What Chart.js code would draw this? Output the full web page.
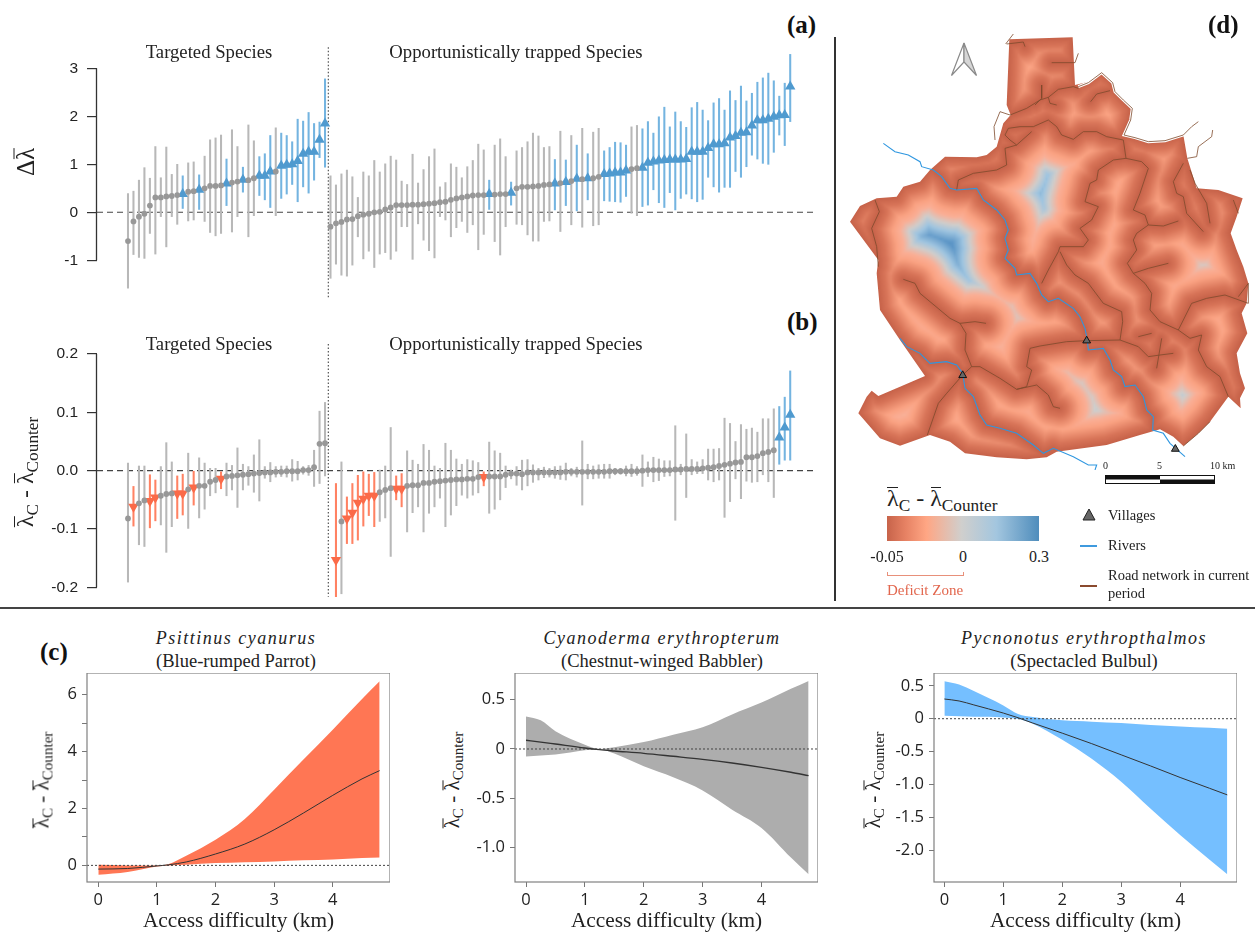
<!DOCTYPE html>
<html>
<head>
<meta charset="utf-8">
<title>Access difficulty figure</title>
<script src="https://cdn.jsdelivr.net/npm/chart.js@4/dist/chart.umd.js"></script>
<style>
  html, body { margin: 0; padding: 0; background: #fff; }
  #fig { position: relative; width: 1255px; height: 932px; overflow: hidden; font-family: "Liberation Serif", serif; color: #222; }
  #fig canvas { position: absolute; }
  .t { position: absolute; white-space: nowrap; line-height: 1; }
  .c { transform: translate(-50%, -50%); }
  .rot { transform: translate(-50%, -50%) rotate(-90deg); }
  .tag { font-weight: bold; font-size: 25px; color: #111; }
  .head { font-size: 18.7px; }
  .sp { font-style: italic; font-size: 18px; letter-spacing: 1.5px; }
  .com { font-size: 18.5px; }
  .leg { font-size: 14.5px; }
  sub { font-size: 72%; vertical-align: -0.28em; line-height: 0; }
  .lb { position: relative; display: inline-block; }
  .lb::before { content: ""; position: absolute; left: 4%; right: 4%; top: 0.03em; height: 0.055em; background: currentColor; }
  .line { position: absolute; }
</style>
</head>
<body>
<div id="fig">
  <canvas id="chartA" width="830" height="260" style="left:0;top:40px"></canvas>
  <canvas id="chartB" width="830" height="260" style="left:0;top:340px"></canvas>
  <canvas id="chartC1" width="350" height="263" style="left:40px;top:673px"></canvas>
  <canvas id="chartC2" width="350" height="263" style="left:468px;top:673px"></canvas>
  <canvas id="chartC3" width="350" height="263" style="left:887px;top:673px"></canvas>
  <canvas id="chartMap" width="415" height="450" style="left:840px;top:20px"></canvas>

  <div class="line" style="left:834px;top:37px;width:2px;height:564px;background:#333"></div>
  <div class="line" style="left:0;top:607px;width:1255px;height:2px;background:#444"></div>

  <div class="t tag" style="left:787px;top:12px">(a)</div>
  <div class="t tag" style="left:787px;top:309px">(b)</div>
  <div class="t tag" style="left:40px;top:639px">(c)</div>
  <div class="t tag" style="left:1208px;top:12px">(d)</div>

  <div class="t head c" style="left:209px;top:52px">Targeted Species</div>
  <div class="t head c" style="left:516px;top:52px">Opportunistically trapped Species</div>
  <div class="t head c" style="left:209px;top:344px">Targeted Species</div>
  <div class="t head c" style="left:516px;top:344px">Opportunistically trapped Species</div>

  <div class="t rot" style="left:25px;top:162px;font-size:25px">Δ<span class="lb">λ</span></div>
  <div class="t rot" style="left:25px;top:472px;font-size:24px"><span class="lb">λ</span><sub>C</sub> - <span class="lb">λ</span><sub>Counter</sub></div>

  <div class="t sp c" style="left:236px;top:638px">Psittinus cyanurus</div>
  <div class="t com c" style="left:236px;top:661px">(Blue-rumped Parrot)</div>
  <div class="t sp c" style="left:662px;top:638px">Cyanoderma erythropterum</div>
  <div class="t com c" style="left:662px;top:661px">(Chestnut-winged Babbler)</div>
  <div class="t sp c" style="left:1084px;top:638px">Pycnonotus erythropthalmos</div>
  <div class="t com c" style="left:1084px;top:661px">(Spectacled Bulbul)</div>

  <div class="t rot" style="left:42px;top:780px;font-size:21px"><span class="lb">λ</span><sub>C</sub> - <span class="lb">λ</span><sub>Counter</sub></div>
  <div class="t rot" style="left:452px;top:780px;font-size:21px"><span class="lb">λ</span><sub>C</sub> - <span class="lb">λ</span><sub>Counter</sub></div>
  <div class="t rot" style="left:873px;top:780px;font-size:21px"><span class="lb">λ</span><sub>C</sub> - <span class="lb">λ</span><sub>Counter</sub></div>

  <!-- north arrow -->
  <svg style="position:absolute;left:950px;top:42px" width="28" height="36" viewBox="0 0 28 36">
    <polygon points="14,1 1.5,33.5 14,20" fill="#fff" stroke="#8a8a8a" stroke-width="1.2"/>
    <polygon points="14,1 26.5,33.5 14,20" fill="#d6d6d6" stroke="#8a8a8a" stroke-width="1.2"/>
  </svg>

  <!-- scale bar -->
  <div class="t" style="left:1103px;top:461px;font-size:10px">0</div>
  <div class="t" style="left:1157px;top:461px;font-size:10px">5</div>
  <div class="t" style="left:1210px;top:461px;font-size:10px">10 km</div>
  <svg style="position:absolute;left:1105px;top:475px" width="111" height="10">
    <rect x="0.5" y="0.5" width="109" height="8" fill="#fff" stroke="#111"/>
    <rect x="1" y="1" width="54" height="3.5" fill="#111"/>
    <rect x="55" y="4.5" width="54" height="3.5" fill="#111"/>
  </svg>

  <!-- colour legend -->
  <div class="t" style="left:887px;top:486px;font-size:24px"><span class="lb">λ</span><sub>C</sub> - <span class="lb">λ</span><sub>Counter</sub></div>
  <div class="line" style="left:887px;top:516px;width:152px;height:25px;background:linear-gradient(90deg,#c7634a 0%,#e68163 12%,#ffa684 26%,#d0cfcd 49%,#a3c6df 72%,#4f8dbc 100%)"></div>
  <div class="t c" style="left:887px;top:557px;font-size:16px">-0.05</div>
  <div class="t c" style="left:963px;top:557px;font-size:16px">0</div>
  <div class="t c" style="left:1039px;top:557px;font-size:16px">0.3</div>
  <div class="line" style="left:887px;top:572px;width:75px;height:3px;border:1px solid #e8907a;border-top:none"></div>
  <div class="t c" style="left:925px;top:590px;font-size:15px;color:#e2664d">Deficit Zone</div>

  <svg style="position:absolute;left:1080px;top:506px" width="20" height="18">
    <polygon points="9,3 15,14 3,14" fill="#666" stroke="#222" stroke-width="1"/>
  </svg>
  <div class="t leg" style="left:1108px;top:508px">Villages</div>
  <div class="line" style="left:1080px;top:545px;width:17px;height:1.5px;background:#3f9ade"></div>
  <div class="t leg" style="left:1108px;top:538px">Rivers</div>
  <div class="line" style="left:1080px;top:585px;width:17px;height:1.5px;background:#8a4a2e"></div>
  <div class="t leg" style="left:1108px;top:568px">Road network in current</div>
  <div class="t leg" style="left:1108px;top:586px">period</div>
</div>

<script>
// ===== PANEL A: change in lambda per species (0-36 targeted, 37-121 opportunistic) =====
const aMean = [-0.6,-0.19,-0.09,-0.03,0.14,0.31,0.31,0.33,0.34,0.36,0.38,0.43,0.44,0.47,0.5,0.55,0.55,0.56,0.6,0.62,0.64,0.68,0.67,0.71,0.76,0.76,0.85,0.85,0.97,0.99,1.0,1.07,1.22,1.26,1.26,1.51,1.85,
  -0.3,-0.23,-0.2,-0.15,-0.14,-0.08,-0.05,-0.03,0,0.01,0.06,0.1,0.15,0.15,0.15,0.16,0.16,0.17,0.18,0.19,0.21,0.22,0.26,0.29,0.31,0.33,0.35,0.36,0.36,0.38,0.37,0.38,0.38,0.41,0.5,0.53,0.53,0.54,0.55,0.57,0.58,0.6,0.61,0.63,0.65,0.7,0.69,0.71,0.71,0.74,0.8,0.81,0.83,0.83,0.87,0.9,0.92,0.93,1.03,1.06,1.08,1.09,1.1,1.1,1.1,1.11,1.26,1.26,1.26,1.34,1.42,1.42,1.44,1.56,1.59,1.66,1.67,1.81,1.92,1.92,1.95,1.99,2.02,2.03,2.62];
const aHigh = [0.39,0.44,0.67,0.93,0.71,1.37,0.72,1.36,0.79,1.0,0.76,1.03,1.05,0.78,1.17,1.51,1.55,1.61,1.11,1.72,1.37,0.94,1.82,1.49,1.16,1.22,1.6,1.76,1.65,1.6,1.47,1.94,1.9,2.08,1.85,1.88,2.78,
  0.76,0.57,0.8,0.88,0.74,0.31,0.84,0.76,1.08,0.84,1.01,1.17,1.09,0.65,0.58,1.21,0.61,0.89,1.16,1.32,0.53,0.62,1.01,0.94,0.72,0.95,1.08,1.42,1.3,0.67,1.4,1.53,1.16,0.63,1.28,1.35,1.47,1.65,1.59,1.35,1.37,1.1,1.69,1.09,1.6,1.4,1.75,1.22,1.67,1.75,1.28,1.35,1.46,1.45,1.4,1.78,1.81,1.74,1.89,1.65,1.99,2.19,1.78,2.09,1.89,1.77,2.18,2.29,2.13,1.91,2.28,2.37,2.13,2.53,2.33,2.63,2.32,2.48,2.71,2.8,2.9,2.74,2.42,2.69,3.29];
const aLow = [-1.58,-0.88,-0.94,-0.96,-0.44,-0.87,-0.09,-0.72,-0.09,-0.25,0.08,-0.18,-0.16,0.06,-0.19,-0.42,-0.49,-0.44,0.14,-0.41,-0.09,0.42,-0.51,-0.07,0.35,0.26,0.1,-0.07,0.29,0.38,0.58,0.22,0.53,0.4,0.67,1.14,0.94,
  -1.375,-1.08,-1.31,-1.33,-1.1,-0.51,-0.97,-0.81,-1.15,-0.87,-0.84,-0.98,-0.81,-0.3,-0.3,-0.98,-0.24,-0.58,-0.8,-0.95,-0.09,-0.16,-0.51,-0.32,-0.19,-0.42,-0.26,-0.78,-0.46,0.06,-0.61,-0.89,-0.3,0.15,-0.25,-0.26,-0.47,-0.6,-0.6,-0.19,-0.18,0.05,-0.4,0.14,-0.26,0.03,-0.31,0.26,-0.28,-0.26,0.24,0.23,0.22,0.21,0.33,-0.02,-0.07,0.12,0.15,0.47,0.2,0.1,0.41,0.05,0.29,0.38,0.28,0.22,0.27,0.73,0.53,0.42,0.52,0.52,0.85,0.73,0.95,1.19,1.11,1.02,1.0,1.25,1.61,1.39,1.89];
const aUpSpecies = [10,13,18,21,24,25,26,28,29,30,31,32,33,34,35,36,66,70,78,80,82,84,87,88,89,90,91,94,95,96,97,98,99,100,101,102,103,104,105,106,107,108,109,110,111,112,113,114,115,116,117,118,119,120,121];
const aTicks = [3, 2, 1, 0, -1];

// ===== PANEL B: actual minus counterfactual (species 37 has no value here) =====
const bMean = [-0.082,-0.062,-0.056,-0.051,-0.052,-0.046,-0.043,-0.04,-0.039,-0.039,-0.039,-0.032,-0.029,-0.026,-0.026,-0.019,-0.016,-0.014,-0.01,-0.009,-0.008,-0.007,-0.006,-0.005,-0.004,-0.003,-0.003,-0.002,-0.002,-0.001,-0.001,-0.001,0.001,0.001,0.006,0.046,0.047,
  null,-0.153,-0.087,-0.082,-0.072,-0.055,-0.048,-0.043,-0.043,-0.037,-0.033,-0.03,-0.031,-0.031,-0.026,-0.025,-0.025,-0.021,-0.021,-0.019,-0.018,-0.017,-0.016,-0.015,-0.015,-0.014,-0.014,-0.011,-0.011,-0.01,-0.01,-0.01,-0.007,-0.005,-0.005,-0.006,-0.003,-0.003,-0.003,-0.003,-0.003,-0.003,-0.003,-0.002,-0.002,-0.002,-0.002,-0.002,-0.002,-0.002,-0.002,-0.001,-0.001,-0.001,-0.001,-0.001,-0.001,0,0.001,0.001,0.001,0.001,0.001,0.002,0.002,0.003,0.003,0.003,0.004,0.005,0.006,0.008,0.01,0.012,0.014,0.015,0.023,0.023,0.025,0.03,0.032,0.035,0.057,0.074,0.096];
const bHigh = [0.013,-0.027,0.008,0.008,-0.007,-0.016,0.007,0.048,0.015,-0.009,-0.006,0.03,0,0.022,0.013,0.004,0.004,-0.002,0.013,0.009,0.039,0.011,0.007,0.027,0.053,0.007,0.014,0.007,0.008,0.008,0.019,0.016,0.007,0.009,0.035,0.102,0.117,
  null,-0.022,0.015,-0.045,-0.022,-0.008,-0.002,-0.006,-0.003,0.001,0.008,0.074,-0.009,-0.005,0.034,0.018,0.011,0.045,0.035,0.008,0.004,0.047,0.035,0.02,0.011,0.019,0.017,0.014,-0.002,0.049,0.034,0.03,0.008,0.001,0.007,0.018,0.019,0.01,0.004,0.006,0.004,0.007,0.008,0.013,0.004,0.006,0.051,0.011,0.008,0.01,0.011,0.011,0.004,0.004,0.008,0.011,0.007,0.027,0.015,0.023,0.02,0.017,0.017,0.077,0.011,0.063,0.019,0.015,0.019,0.037,0.037,0.038,0.09,0.081,0.05,0.079,0.071,0.073,0.066,0.089,0.089,0.106,0.11,0.126,0.171];
const bLow = [-0.191,-0.095,-0.127,-0.13,-0.098,-0.086,-0.093,-0.14,-0.096,-0.082,-0.076,-0.099,-0.059,-0.081,-0.066,-0.043,-0.038,-0.031,-0.043,-0.033,-0.063,-0.033,-0.025,-0.037,-0.052,-0.013,-0.019,-0.011,-0.01,-0.011,-0.018,-0.016,-0.006,-0.008,-0.027,-0.022,-0.009,
  null,-0.216,-0.211,-0.125,-0.125,-0.119,-0.095,-0.077,-0.096,-0.087,-0.081,-0.147,-0.05,-0.062,-0.105,-0.072,-0.062,-0.105,-0.073,-0.062,-0.047,-0.096,-0.076,-0.06,-0.042,-0.047,-0.042,-0.038,-0.026,-0.073,-0.066,-0.05,-0.029,-0.014,-0.025,-0.033,-0.026,-0.02,-0.016,-0.012,-0.011,-0.013,-0.015,-0.016,-0.009,-0.011,-0.059,-0.014,-0.014,-0.013,-0.013,-0.013,-0.007,-0.006,-0.009,-0.01,-0.008,-0.027,-0.01,-0.019,-0.017,-0.01,-0.009,-0.085,-0.007,-0.046,-0.007,-0.005,-0.005,-0.016,-0.019,-0.016,-0.08,-0.053,-0.014,-0.048,-0.018,-0.02,-0.019,-0.007,-0.019,-0.046,0.011,0.018,0.018];
const bUpSpecies = [119,120,121];
const bDownSpecies = [1,4,5,9,10,12,17,38,40,41,42,43,44,45,49,50,65];
const bTicks = [0.2, 0.1, 0, -0.1, -0.2];

// ===== PANEL C: response curves against access difficulty =====
const c1X = [0,0.5,1,1.2,1.5,2,2.5,3,3.5,4,4.5,4.8];
const c1Upper = [0.02,0,0,0.05,0.34,0.9,1.63,2.66,3.72,4.77,5.85,6.47];
const c1Mean = [-0.13,-0.11,-0.02,0.02,0.12,0.4,0.75,1.25,1.84,2.46,3.04,3.33];
const c1Lower = [-0.33,-0.23,-0.04,0,0.02,0.08,0.11,0.14,0.18,0.21,0.26,0.28];
const c1Ticks = [0,1,2,3,4,5,6];
const c1Labels = ["0","","2","","4","","6"];

const c2X = [0,0.25,0.5,1,1.25,1.5,2,2.5,3,3.5,4,4.5,4.8];
const c2Upper = [0.33,0.29,0.18,0.044,0,0.017,0.07,0.145,0.22,0.35,0.47,0.61,0.69];
const c2Mean = [0.088,0.07,0.05,0.01,-0.007,-0.02,-0.044,-0.074,-0.105,-0.142,-0.186,-0.236,-0.27];
const c2Lower = [-0.075,-0.066,-0.057,-0.014,-0.003,-0.047,-0.176,-0.287,-0.42,-0.615,-0.8,-1.1,-1.27];
const c2Ticks = [0.5,0,-0.5,-1];
const c2Labels = ["0.5","0","-0.5","-1.0"];

const c3X = [0,0.25,0.5,1,1.25,1.5,2,2.5,3,3.5,4,4.5,4.8];
const c3Upper = [0.57,0.52,0.42,0.2,0.07,0.025,-0.025,-0.045,-0.066,-0.096,-0.117,-0.137,-0.152];
const c3Mean = [0.3,0.27,0.21,0.086,0.015,-0.066,-0.22,-0.38,-0.55,-0.72,-0.895,-1.06,-1.16];
const c3Lower = [0.045,0.038,0.03,0.02,-0.005,-0.076,-0.32,-0.61,-0.96,-1.37,-1.77,-2.15,-2.37];
const c3Ticks = [0.5,0,-0.5,-1,-1.5,-2];
const c3Labels = ["0.5","0","-0.5","-1.0","-1.5","-2.0"];
const cXTicks = [0,1,2,3,4];

// ===== PANEL D: map traced in crop units, [x, y] =====
const mapOutline = [[508,58],[698,52],[705,195],[745,185],[785,160],[815,185],[825,215],[850,240],[875,265],[870,300],[852,345],[880,352],[925,362],[975,360],[1030,345],[1042,415],[1070,505],[1135,510],[1208,535],[1190,590],[1172,640],[1190,690],[1210,740],[1225,790],[1220,850],[1205,880],[1222,940],[1190,1000],[1200,1060],[1215,1105],[1200,1135],[1202,1165],[1165,1130],[1110,1205],[1075,1240],[1030,1278],[1000,1250],[960,1228],[900,1245],[800,1275],[650,1295],[620,1312],[560,1318],[470,1312],[375,1300],[330,1265],[270,1245],[180,1277],[120,1255],[55,1180],[80,1130],[95,1112],[115,1128],[180,1100],[255,1068],[180,960],[120,870],[110,760],[115,720],[30,605],[60,558],[110,535],[170,530],[190,500],[240,485],[270,450],[315,410],[410,412],[440,405],[470,380],[490,310],[512,285],[500,255]];
const mapRivers = [
  [[130,370],[165,395],[205,405],[240,425],[245,440],[280,450],[305,470],[330,505],[350,510],[410,505],[430,540],[470,570],[495,600],[505,630],[495,655],[505,690],[495,715],[525,745],[530,765],[570,760],[590,790],[605,825],[625,845],[655,835],[700,865],[720,890],[735,925],[742,960],[745,990],[790,985],[810,1020],[820,1050],[845,1070],[855,1100],[885,1095],[910,1130],[920,1170],[940,1190],[938,1230],[970,1240],[990,1270],[1035,1310]],
  [[180,955],[200,980],[240,1000],[270,1030],[320,1025],[350,1035],[368,1060],[375,1105],[400,1130],[420,1185],[440,1215],[480,1225],[530,1240],[580,1275],[610,1300],[640,1285],[700,1310],[745,1335],[770,1335],[765,1350]]
];
const mapBorderRoad = [[715,200],[745,188],[785,158],[818,188],[825,215],[850,240],[877,265],[872,300],[852,345],[885,353],[925,365],[975,362],[1030,345],[1055,320],[1075,305]];
const mapRoads = [
  [[497,72],[520,42]],[[500,72],[550,66],[555,80]],
  [[635,128],[705,128],[715,100]],
  [[510,285],[560,265],[600,240],[625,232],[655,208],[700,200],[715,205]],
  [[465,360],[462,320],[480,275],[510,285]],
  [[605,195],[605,235],[585,255]],[[625,232],[630,250],[650,255]],
  [[752,245],[770,222],[810,212]],
  [[505,325],[540,320],[580,320],[625,300],[650,320],[665,345],[700,358],[730,335],[770,335],[800,350],[850,360],[858,415],[905,425],[925,445],[900,520],[880,570],[915,585],[925,615],[890,640],[880,660],[890,690],[862,730],[880,760],[915,790],[935,820],[930,870],[960,905],[1015,930],[1050,955],[1085,945],[1075,990],[1100,1040],[1140,1070],[1165,1130]],
  [[858,415],[820,420],[775,450],[770,480],[750,490],[735,545],[775,560],[755,600],[720,625],[745,660],[730,680],[660,680],[655,695],[625,750],[605,790]],
  [[660,695],[680,735],[705,765],[745,790],[790,850],[845,875],[848,905],[840,960]],
  [[505,325],[495,345],[510,360],[530,375],[575,335]],
  [[530,375],[495,385],[500,435],[470,450],[400,460],[355,480],[350,510]],
  [[925,615],[970,618],[1015,603]],
  [[1030,430],[1000,485],[1010,520],[1030,530],[1040,580],[1090,635]],
  [[1042,415],[1070,410],[1075,380],[1115,350],[1118,330]],
  [[1050,450],[1065,490],[1100,550],[1110,610]],
  [[880,760],[925,745],[985,730]],
  [[1015,930],[1055,850],[1100,835],[1155,825],[1225,850],[1225,790],[1195,830]],
  [[740,962],[680,965],[600,978],[570,985],[560,1040],[575,1050],[560,1100],[530,1108],[480,1075],[420,1040],[395,1040],[368,1065],[320,1120],[295,1150],[262,1245]],
  [[840,960],[740,962]],
  [[840,960],[895,980],[925,1010],[960,1005],[1000,1000]],[[965,955],[950,1045]],[[895,950],[935,940]],
  [[530,1108],[590,1095],[625,1125],[640,1160],[660,1165]],
  [[395,1040],[375,990],[378,940],[360,910],[330,895],[240,820],[225,790],[190,778]],[[360,910],[405,905],[438,910]],
  [[105,540],[118,575],[95,625],[110,680],[115,740]],
  [[1180,540],[1195,580]],[[1030,1278],[1075,1240],[1110,1205]]
];
const mapVillages = [[368,1066],[740,962],[1006,1287]];
// distance to nearest road or river (image px) against colour of the field
const mapStops = [0, 8, 20, 27, 35, 42, 52, 64];
const mapColors = [[198,98,73],[216,116,88],[250,162,130],[250,175,150],[208,205,203],[160,197,224],[95,152,200],[58,120,172]];

// ===== HELPERS =====
const INK = "#333";
const GREY_BAR = "#b8b8b8", GREY_DOT = "#989898";
const BLUE_BAR = "#74b4e0", BLUE_DOT = "#4f9acf";
const RED_BAR = "#ff8263", RED_DOT = "#fb6a48";

function fixTicks(values) {
  return s => { s.ticks = values.map(v => ({ value: v })); };
}

// draws the R style axis line between the first and last tick
const rAxisLine = {
  id: "rAxisLine",
  afterDatasetsDraw(chart) {
    const y = chart.scales.y, x = Math.round(y.right) - 0.5;
    const vals = y.ticks.map(t => y.getPixelForValue(t.value));
    const ctx = chart.ctx;
    ctx.save();
    ctx.strokeStyle = INK;
    ctx.lineWidth = 1.3;
    ctx.beginPath();
    ctx.moveTo(x, Math.min(...vals));
    ctx.lineTo(x, Math.max(...vals));
    ctx.stroke();
    ctx.restore();
  }
};

const boxFrame = {
  id: "boxFrame",
  afterDatasetsDraw(chart) {
    const a = chart.chartArea, ctx = chart.ctx;
    ctx.save();
    ctx.strokeStyle = "#808080";
    ctx.lineWidth = 1.2;
    ctx.strokeRect(a.left, a.top, a.right - a.left, a.bottom - a.top);
    ctx.restore();
  }
};

// ===== SPECIES CHARTS =====
function speciesChart(id, mean, low, high, ticks, fmt, upIdx, downIdx, xRange, yRange, dotted) {
  const idx = mean.map((_, i) => i);
  const upSet = new Set(upIdx), downSet = new Set(downIdx);
  const barColor = idx.map(i => upSet.has(i) ? BLUE_BAR : downSet.has(i) ? RED_BAR : GREY_BAR);
  const has = i => mean[i] !== null;
  new Chart(document.getElementById(id), {
    type: "scatter",
    data: {
      datasets: [
        { data: idx.filter(i => has(i) && !upSet.has(i) && !downSet.has(i)).map(i => ({ x: i, y: mean[i] })),
          backgroundColor: GREY_DOT, pointRadius: 2.9, pointBorderWidth: 0, order: 1 },
        { data: upIdx.map(i => ({ x: i, y: mean[i] })), pointStyle: "triangle", pointRadius: 6,
          backgroundColor: BLUE_DOT, pointBorderWidth: 0, order: 1 },
        { data: downIdx.map(i => ({ x: i, y: mean[i] })), pointStyle: "triangle", rotation: 180, pointRadius: 6,
          backgroundColor: RED_DOT, pointBorderWidth: 0, order: 1 },
        { type: "bar", data: idx.filter(has).map(i => ({ x: i, y: [low[i], high[i]] })),
          backgroundColor: idx.filter(has).map(i => barColor[i]), barThickness: 1.4, grouped: false, order: 2 },
        { showLine: true, data: [{ x: xRange[0], y: 0 }, { x: 125.6, y: 0 }], borderColor: "#444", borderWidth: 1.1,
          borderDash: [6, 4], pointRadius: 0, order: 3 },
        { showLine: true, data: [{ x: 36.6, y: dotted[0] }, { x: 36.6, y: dotted[1] }], borderColor: "#444", borderWidth: 1.1,
          borderDash: [1.5, 2], pointRadius: 0, order: 3 }
      ]
    },
    options: {
      responsive: false,
      animation: false,
      events: [],
      layout: { padding: 0, autoPadding: false },
      plugins: { legend: { display: false }, tooltip: { enabled: false } },
      scales: {
        x: { type: "linear", display: false, offset: false, min: xRange[0], max: xRange[1], grid: { display: false } },
        y: {
          min: yRange[0], max: yRange[1],
          afterBuildTicks: fixTicks(ticks),
          afterFit(s) { s.width = 97; s.paddingTop = 0; s.paddingBottom = 0; },
          border: { display: false },
          grid: { drawOnChartArea: false, drawTicks: true, tickLength: 10, color: INK, lineWidth: 1.2 },
          ticks: { color: "#222", padding: 9, autoSkip: false, font: { family: "Liberation Sans", size: 15.5 }, callback: fmt }
        }
      }
    },
    plugins: [rAxisLine]
  });
}

speciesChart("chartA", aMean, aLow, aHigh, aTicks, v => String(v), aUpSpecies, [],
  [-5.664, 128.27], [-1.827, 3.59], [3.44, -1.785]);
speciesChart("chartB", bMean, bLow, bHigh, bTicks, v => v.toFixed(1), bUpSpecies, bDownSpecies,
  [-5.664, 128.27], [-0.2217, 0.224], [0.217, -0.216]);

// ===== RESPONSE CURVES =====
function curveChart(id, xs, upper, mean, lower, color, lineW, yTicks, yLabels, xRange, yRange) {
  const pts = arr => xs.map((x, i) => ({ x: x, y: arr[i] }));
  new Chart(document.getElementById(id), {
    type: "line",
    data: {
      datasets: [
        { data: [{ x: xRange[0], y: 0 }, { x: xRange[1], y: 0 }], borderColor: "#444", borderWidth: 1,
          borderDash: [2, 2], pointRadius: 0, order: 1 },
        { data: pts(mean), borderColor: "#333", borderWidth: lineW, pointRadius: 0, cubicInterpolationMode: "monotone", order: 2 },
        { data: pts(upper), borderWidth: 0, borderColor: "transparent", backgroundColor: color, pointRadius: 0,
          cubicInterpolationMode: "monotone", fill: "+1", order: 3 },
        { data: pts(lower), borderWidth: 0, borderColor: "transparent", pointRadius: 0, cubicInterpolationMode: "monotone", order: 4 }
      ]
    },
    options: {
      responsive: false,
      animation: false,
      events: [],
      layout: { padding: 0, autoPadding: false },
      plugins: { legend: { display: false }, tooltip: { enabled: false } },
      scales: {
        x: {
          type: "linear", min: xRange[0], max: xRange[1],
          afterBuildTicks: fixTicks(cXTicks),
          afterFit(s) { s.height = 54; s.paddingLeft = 0; s.paddingRight = 0; },
          border: { display: false },
          grid: { drawOnChartArea: false, tickLength: 5, color: "#777" },
          ticks: { color: "#222", padding: 3, maxRotation: 0, autoSkip: false, font: { family: "Open Sans", size: 16.5 }, callback: v => String(v) },
          title: { display: true, text: "Access difficulty (km)", color: "#222", font: { family: "Liberation Serif", size: 21.3 }, padding: { top: 0, bottom: 2 } }
        },
        y: {
          min: yRange[0], max: yRange[1],
          afterBuildTicks: fixTicks(yTicks),
          afterFit(s) { s.width = 47; s.paddingTop = 0; s.paddingBottom = 0; },
          border: { display: false },
          grid: { drawOnChartArea: false, tickLength: 5, color: "#777" },
          ticks: { color: "#222", padding: 5, autoSkip: false, font: { family: "Open Sans", size: 16.5 },
            callback: v => yLabels[yTicks.indexOf(v)] }
        }
      }
    },
    plugins: [boxFrame]
  });
}

curveChart("chartC1", c1X, c1Upper, c1Mean, c1Lower, "#ff7654", 1, c1Ticks, c1Labels, [-0.193, 4.977], [-0.584, 6.76]);
curveChart("chartC2", c2X, c2Upper, c2Mean, c2Lower, "#adadad", 1.4, c2Ticks, c2Labels, [-0.187, 4.96], [-1.348, 0.77]);
curveChart("chartC3", c3X, c3Upper, c3Mean, c3Lower, "#75bfff", 1, c3Ticks, c3Labels, [-0.176, 4.965], [-2.487, 0.696]);

// ===== MAP =====
function fieldColor(d) {
  for (let i = 1; i < mapStops.length; i++) {
    if (d <= mapStops[i]) {
      const t = (d - mapStops[i - 1]) / (mapStops[i] - mapStops[i - 1]);
      return mapColors[i].map((c, k) => mapColors[i - 1][k] + (c - mapColors[i - 1][k]) * t);
    }
  }
  return mapColors[mapColors.length - 1];
}

// colours each cell inside the outline by its distance to the traced lines
const accessField = {
  id: "accessField",
  beforeDatasetsDraw(chart) {
    const sx = chart.scales.x, sy = chart.scales.y;
    const toPx = p => [sx.getPixelForValue(p[0]), sy.getPixelForValue(p[1])];
    const lines = mapRoads.concat(mapRivers, [mapBorderRoad], [mapOutline.concat([mapOutline[0]])]);
    const segs = [];
    lines.forEach(l => {
      for (let i = 1; i < l.length; i++) segs.push(toPx(l[i - 1]).concat(toPx(l[i])));
    });
    const W = chart.width, H = chart.height, step = 2;
    const cw = Math.ceil(W / step), ch = Math.ceil(H / step);
    const off = document.createElement("canvas");
    off.width = cw; off.height = ch;
    const octx = off.getContext("2d");
    const img = octx.createImageData(cw, ch);
    for (let j = 0; j < ch; j++) {
      for (let i = 0; i < cw; i++) {
        const px = (i + 0.5) * step, py = (j + 0.5) * step;
        let best = 1e12;
        for (const s of segs) {
          const dx = s[2] - s[0], dy = s[3] - s[1];
          const len = dx * dx + dy * dy;
          let t = len ? ((px - s[0]) * dx + (py - s[1]) * dy) / len : 0;
          t = t < 0 ? 0 : t > 1 ? 1 : t;
          const ex = s[0] + t * dx - px, ey = s[1] + t * dy - py;
          const d2 = ex * ex + ey * ey;
          if (d2 < best) best = d2;
        }
        const c = fieldColor(Math.sqrt(best));
        const o = (j * cw + i) * 4;
        img.data[o] = c[0]; img.data[o + 1] = c[1]; img.data[o + 2] = c[2]; img.data[o + 3] = 255;
      }
    }
    octx.putImageData(img, 0, 0);
    const ctx = chart.ctx;
    ctx.save();
    ctx.beginPath();
    mapOutline.forEach((p, i) => {
      const q = toPx(p);
      if (i) ctx.lineTo(q[0], q[1]); else ctx.moveTo(q[0], q[1]);
    });
    ctx.closePath();
    ctx.clip();
    ctx.imageSmoothingEnabled = true;
    ctx.drawImage(off, 0, 0, W, H);
    ctx.restore();
  }
};

const asPts = l => l.map(p => ({ x: p[0], y: p[1] }));
const lineSet = (l, color, w, order) => ({ data: asPts(l), showLine: true, borderColor: color, borderWidth: w, pointRadius: 0, order: order });

new Chart(document.getElementById("chartMap"), {
  type: "scatter",
  data: {
    datasets: [
      { data: asPts(mapVillages), pointStyle: "triangle", pointRadius: 4.5, backgroundColor: "#666", borderColor: "#111", borderWidth: 1, order: 1 },
      ...mapRivers.map(l => lineSet(l, "#2f97e0", 1.1, 2)),
      ...mapRoads.map(l => lineSet(l, "#7d4a2c", 0.8, 3)),
      lineSet(mapBorderRoad, "#7d4a2c", 0.8, 4),
      lineSet(mapBorderRoad, "#ffffff", 3, 5)
    ]
  },
  options: {
    responsive: false,
    animation: false,
    events: [],
    layout: { padding: 0, autoPadding: false },
    plugins: { legend: { display: false }, tooltip: { enabled: false } },
    scales: {
      x: { type: "linear", display: false, min: 0, max: 1245 },
      y: { type: "linear", display: false, min: 0, max: 1350, reverse: true }
    }
  },
  plugins: [accessField]
});
</script>
</body>
</html>
